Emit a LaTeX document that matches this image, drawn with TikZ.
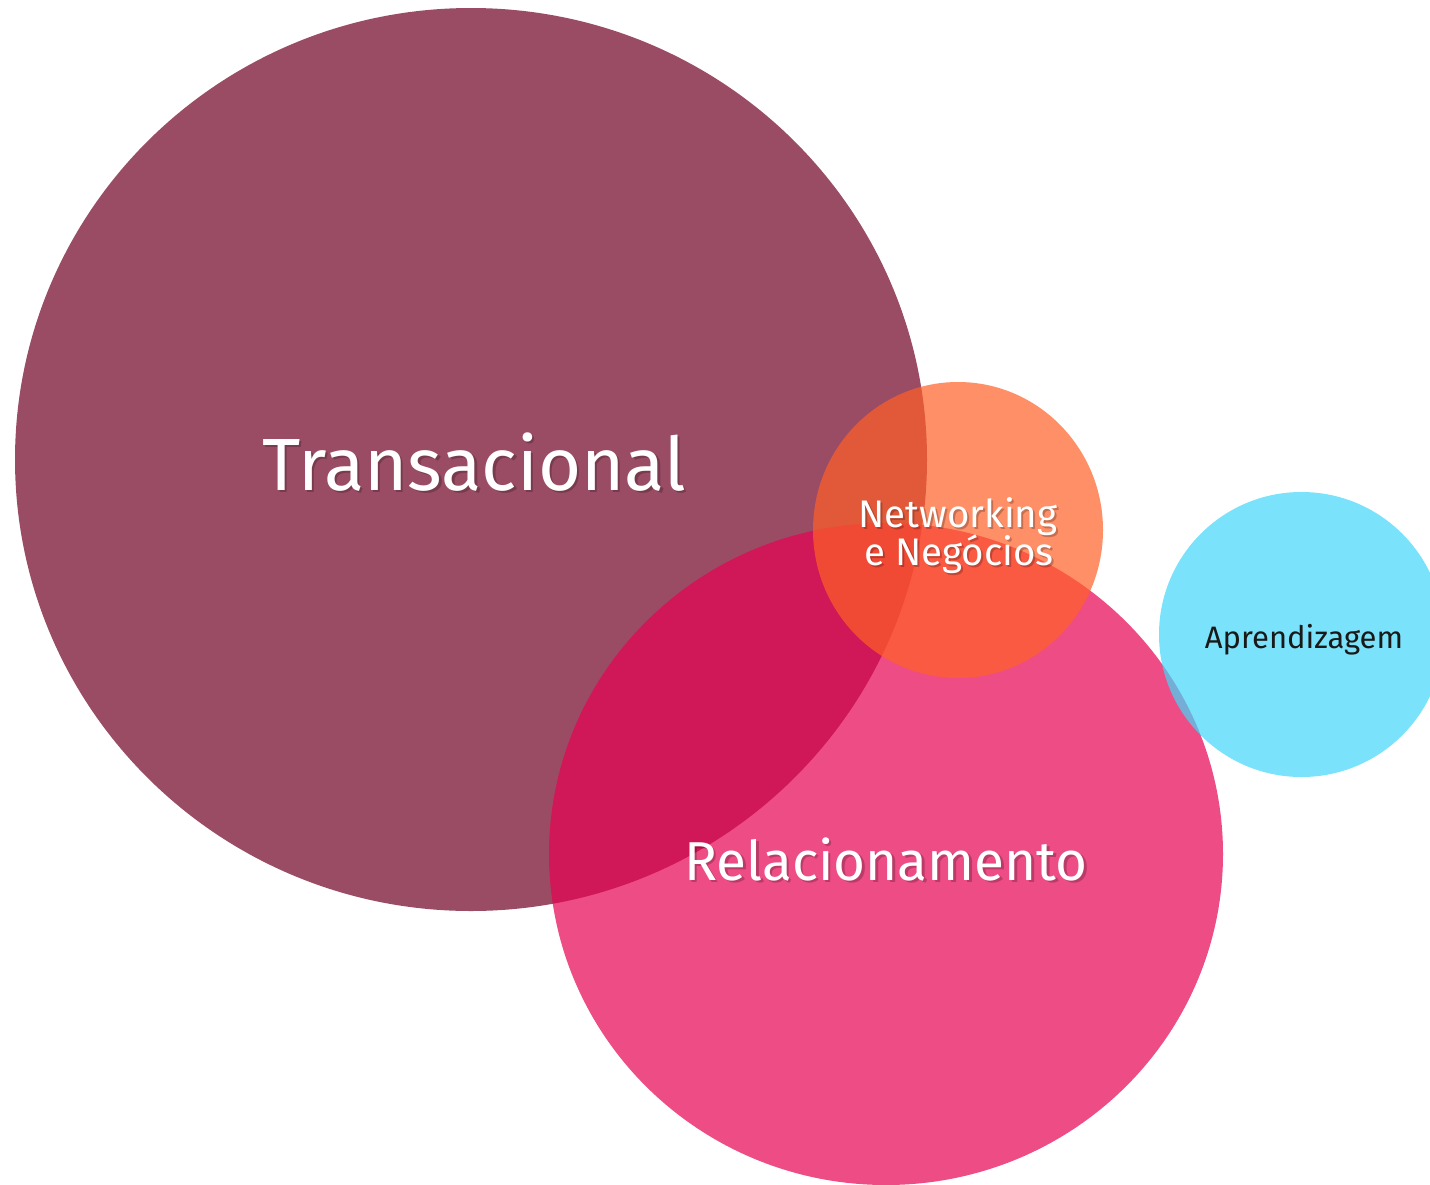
\documentclass[tikz,border=0pt]{standalone}
\usepackage{fontspec}
\setmainfont{Fira Sans}

\definecolor{transcol}{RGB}{112,0,35}
\definecolor{relcol}{RGB}{231,0,81}
\definecolor{netcol}{RGB}{255,95,38}
\definecolor{aprcol}{RGB}{65,214,248}

\tikzset{
  bubble/.style={opacity=0.7},
  lbl/.style={anchor=base, inner sep=0pt, text=white},
  shade/.style={anchor=base, inner sep=0pt, text=black, text opacity=0.22},
  hugefont/.style={font=\fontsize{37}{40}\selectfont},
  bigfont/.style={font=\fontsize{27.4}{32}\selectfont},
  midfont/.style={font=\fontsize{19.2}{22}\selectfont},
  smallfont/.style={font=\fontsize{15.5}{18}\selectfont},
}

\begin{document}
\begin{tikzpicture}[x=0.5pt, y=-0.5pt]
  \useasboundingbox (0,0) rectangle (1430,1184);
  \clip (0,0) rectangle (1430,1184);

  % bubbles, back to front
  \foreach \cx/\cy/\rx/\ry/\col in {471/459.5/456/451.5/transcol, 886/854/337/331/relcol,
                                    958/530/145/148/netcol, 1301.5/634.5/142.5/142.5/aprcol}{
    \fill[bubble, \col] (\cx,\cy) ellipse [x radius=\rx, y radius=\ry];
  }

  % text shadows
  \node[shade, hugefont] (transS) at (476.5,492.5) {Transacional};
  \node[shade, bigfont] (relS) at (888.5,882.5) {Relacionamento};
  \node[shade, midfont] (netAS) at (960,529) {Networking};
  \node[shade, midfont] (netBS) at (961,567) {e Negócios};

  % labels
  \node[lbl, hugefont] (trans) at (474,490) {Transacional};
  \node[lbl, bigfont] (rel) at (886,880) {Relacionamento};
  \node[lbl, midfont] (netA) at (958,527) {Networking};
  \node[lbl, midfont] (netB) at (959,565) {e Negócios};
  \node[lbl, smallfont, text=black!90] (apr) at (1304,648) {Aprendizagem};
\end{tikzpicture}
\end{document}
